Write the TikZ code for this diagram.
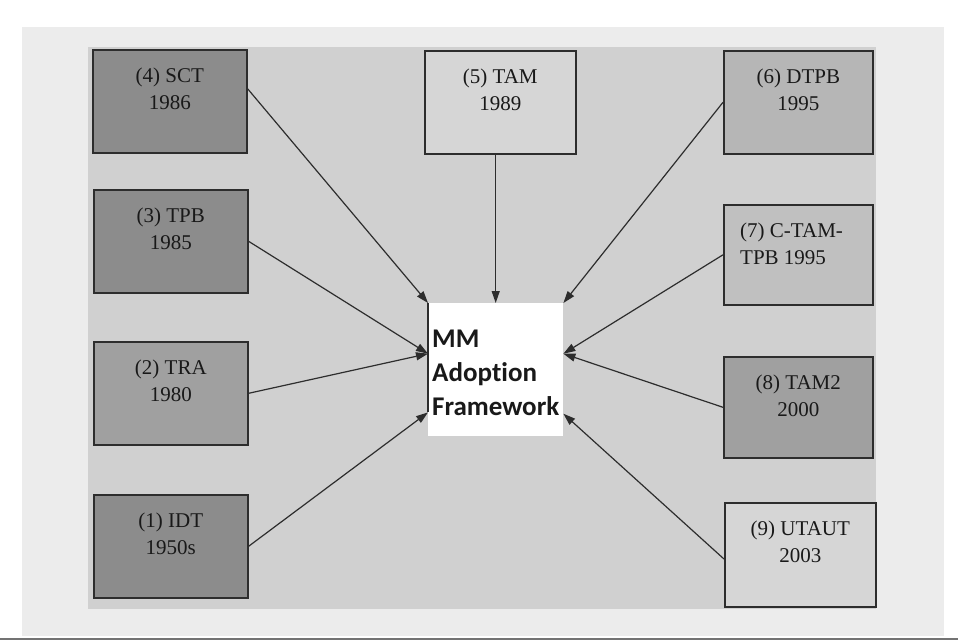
\documentclass[tikz,border=0pt]{standalone}
\usepackage{fontspec}
\setmainfont{Liberation Serif}
\newfontfamily\frameworkfont[Ligatures=NoCommon]{Carlito}
\usetikzlibrary{calc,arrows.meta}
\definecolor{outerframe}{RGB}{236,236,236}
\definecolor{panel}{RGB}{208,208,208}
\definecolor{shadeA}{RGB}{140,140,140}
\definecolor{shadeB}{RGB}{160,160,160}
\definecolor{shadeC}{RGB}{182,182,182}
\definecolor{shadeD}{RGB}{192,192,192}
\definecolor{shadeE}{RGB}{214,214,214}
\definecolor{edge}{RGB}{45,45,45}
\begin{document}
\begin{tikzpicture}[x=1pt,y=-1pt,
  modelbox/.style={draw=edge, line width=1.6pt, minimum width=154pt, minimum height=103pt, anchor=north west, inner sep=0pt},
  modeltext/.style={font=\fontsize{21}{27}\selectfont, align=center, anchor=north, inner sep=0pt, text=black!90},
  arr/.style={draw=edge, line width=1.2pt, -{Triangle[length=12pt,width=8pt]}}]
\useasboundingbox (0,0) rectangle (958,642);
% backdrop
\fill[white] (0,0) rectangle (958,642);
\fill[outerframe] (22,27) rectangle (944,636);
\fill[panel] (88,47) rectangle (876,609);
\draw[black!55, line width=2pt] (0,639) -- (958,639);

% left column
\node[modelbox, fill=shadeA] (sct) at (92,49) {};
\node[modeltext] (sctT) at ($(sct.north)+(0,19)$) {(4) SCT\\1986};
\node[modelbox, fill=shadeA] (tpb) at (93,189) {};
\node[modeltext] (tpbT) at ($(tpb.north)+(0,19)$) {(3) TPB\\1985};
\node[modelbox, fill=shadeB] (tra) at (93,341) {};
\node[modeltext] (traT) at ($(tra.north)+(0,19)$) {(2) TRA\\1980};
\node[modelbox, fill=shadeA] (idt) at (93,494) {};
\node[modeltext] (idtT) at ($(idt.north)+(0,19)$) {(1) IDT\\1950s};

% top middle
\node[modelbox, fill=shadeE, minimum width=151pt] (tam) at (424,50) {};
\node[modeltext] (tamT) at ($(tam.north)+(0,19)$) {(5) TAM\\1989};

% right column
\node[modelbox, fill=shadeC, minimum width=149pt] (dtpb) at (723,50) {};
\node[modeltext] (dtpbT) at ($(dtpb.north)+(0,19)$) {(6) DTPB\\1995};
\node[modelbox, fill=shadeD, minimum width=149pt, minimum height=100pt] (ctam) at (723,204) {};
\node[modeltext, align=left, anchor=north west] (ctamT) at ($(ctam.north west)+(17,19)$) {(7) C-TAM-\\TPB 1995};
\node[modelbox, fill=shadeB, minimum width=149pt, minimum height=101pt] (tamtwo) at (723,356) {};
\node[modeltext] (tamtwoT) at ($(tamtwo.north)+(0,19)$) {(8) TAM2\\2000};
\node[modelbox, fill=shadeE, minimum width=151pt, minimum height=104pt] (utaut) at (724,502) {};
\node[modeltext] (utautT) at ($(utaut.north)+(0,19)$) {(9) UTAUT\\2003};

% central framework
\node[fill=white, minimum width=135pt, minimum height=133pt, anchor=north west, inner sep=0pt] (mm) at (428,303) {};
\node[font=\frameworkfont\bfseries\fontsize{27}{34}\selectfont, align=left, anchor=north west, inner sep=0pt, text=black!90] (mmT) at ($(mm.north west)+(4,27)$) {MM\\Adoption\\Framework};
\draw[edge, line width=1.2pt] (mm.north west) -- ($(mm.north west)!0.82!(mm.south west)$);

% connectors into the framework
\draw[arr] ($(sct.north east)!0.38!(sct.south east)$) -- (mm.north west);
\draw[arr] (tpb.east) -- ($(mm.north west)!0.38!(mm.south west)$);
\draw[arr] (tra.east) -- ($(mm.north west)!0.38!(mm.south west)$);
\draw[arr] (idt.east) -- ($(mm.north west)!0.82!(mm.south west)$);
\draw[arr] (tam.south -| mm.north) -- (mm.north);
\draw[arr] (dtpb.west) -- (mm.north east);
\draw[arr] (ctam.west) -- ($(mm.north east)!0.38!(mm.south east)$);
\draw[arr] (tamtwo.west) -- ($(mm.north east)!0.38!(mm.south east)$);
\draw[arr] ($(utaut.north west)!0.54!(utaut.south west)$) -- ($(mm.north east)!0.83!(mm.south east)$);
\end{tikzpicture}
\end{document}
